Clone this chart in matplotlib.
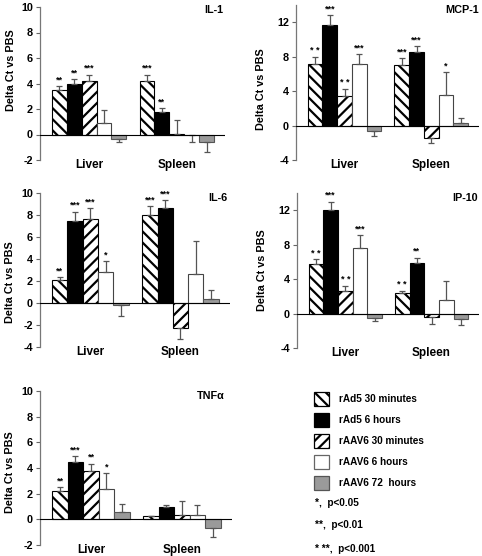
import numpy as np
import matplotlib
matplotlib.use("Agg")
import matplotlib.pyplot as plt
from matplotlib.patches import Rectangle

plt.rcParams['font.family'] = ['Liberation Sans', 'DejaVu Sans']
plt.rcParams['font.weight'] = 'bold'
plt.rcParams['hatch.linewidth'] = 1.6

groups = ['Liver', 'Spleen']
series = ['rAd5 30 minutes', 'rAd5 6 hours', 'rAAV6 30 minutes', 'rAAV6 6 hours', 'rAAV6 72  hours']
notes = ['*,  p<0.05', '**,  p<0.01', '* **,  p<0.001']

# IL-1
il1_liver = [3.5, 4.0, 4.2, 0.9, -0.35]
il1_liver_err = [0.3, 0.35, 0.5, 1.05, 0.25]
il1_liver_sig = ['**', '**', '***', '', '']
il1_spleen = [4.2, 1.8, 0.05, -0.05, -0.6]
il1_spleen_err = [0.5, 0.25, 1.05, 0.5, 0.8]
il1_spleen_sig = ['***', '**', '', '', '']

# MCP-1
mcp1_liver = [7.2, 11.7, 3.4, 7.2, -0.6]
mcp1_liver_err = [0.8, 1.1, 0.9, 1.1, 0.6]
mcp1_liver_sig = ['* *', '***', '* *', '***', '']
mcp1_spleen = [7.0, 8.5, -1.4, 3.6, 0.3]
mcp1_spleen_err = [0.8, 0.7, 0.6, 2.6, 0.6]
mcp1_spleen_sig = ['***', '***', '', '*', '']

# IL-6
il6_liver = [2.05, 7.5, 7.6, 2.8, -0.2]
il6_liver_err = [0.3, 0.8, 1.0, 1.0, 1.0]
il6_liver_sig = ['**', '***', '***', '*', '']
il6_spleen = [8.0, 8.65, -2.25, 2.6, 0.35]
il6_spleen_err = [0.8, 0.7, 1.0, 3.0, 0.85]
il6_spleen_sig = ['***', '***', '', '', '']

# IP-10
ip10_liver = [5.7, 12.0, 2.6, 7.6, -0.5]
ip10_liver_err = [0.6, 1.0, 0.6, 1.5, 0.4]
ip10_liver_sig = ['* *', '***', '* *', '***', '']
ip10_spleen = [2.4, 5.9, -0.45, 1.6, -0.65]
ip10_spleen_err = [0.25, 0.6, 0.8, 2.2, 0.7]
ip10_spleen_sig = ['* *', '**', '', '', '']

# TNF-alpha
tnf_liver = [2.2, 4.5, 3.8, 2.4, 0.6]
tnf_liver_err = [0.3, 0.4, 0.55, 1.2, 0.6]
tnf_liver_sig = ['**', '***', '**', '*', '']
tnf_spleen = [0.25, 1.0, 0.35, 0.35, -0.65]
tnf_spleen_err = [0.0, 0.15, 1.1, 0.75, 0.75]
tnf_spleen_sig = ['', '', '', '', '']

styles = [
    dict(facecolor='white', edgecolor='black', hatch='\\\\\\'),
    dict(facecolor='black', edgecolor='black', hatch=None),
    dict(facecolor='white', edgecolor='black', hatch='///'),
    dict(facecolor='white', edgecolor='#444444', hatch=None),
    dict(facecolor='#9a9a9a', edgecolor='#555555', hatch=None),
]

W, H = 482, 556
fig = plt.figure(figsize=(W / 100, H / 100), dpi=100)


def px_axes(left, right, top, bottom):
    return fig.add_axes([left / W, 1 - bottom / H, (right - left) / W, (bottom - top) / H])


def panel(box, title, title_xy, liver, liver_err, liver_sig, spleen, spleen_err, spleen_sig,
          ylim, yticks, ylab_xy):
    ax = px_axes(*box)
    w = 0.17
    xs = np.arange(len(groups))
    data = [(liver, liver_err, liver_sig), (spleen, spleen_err, spleen_sig)]
    for i in range(len(series)):
        vals = np.array([liver[i], spleen[i]])
        errs = np.array([liver_err[i], spleen_err[i]])
        pos = xs + (i - 2) * w
        st = styles[i]
        ax.bar(pos, vals, width=w, facecolor=st['facecolor'], edgecolor=st['edgecolor'],
               hatch=st['hatch'], linewidth=0.8, zorder=2)
        lower = np.where(vals < 0, errs, 0)
        upper = np.where(vals >= 0, errs, 0)
        ax.errorbar(pos, vals, yerr=[lower, upper], fmt='none', ecolor='#555555',
                    elinewidth=0.9, capsize=2, capthick=0.9, zorder=3)
        for g in range(len(groups)):
            sig = data[g][2][i]
            if sig:
                ax.annotate(sig, (pos[g], vals[g] + errs[g]), xytext=(0, 1.2),
                            textcoords='offset points', ha='center', va='bottom',
                            fontsize=6.5, fontweight='bold')
    ax.axhline(0, color='black', lw=0.8, zorder=4)
    ax.set_xlim(-0.56, 1.55)
    ax.set_ylim(*ylim)
    ax.set_yticks(yticks)
    ax.set_yticklabels([str(t) for t in yticks], fontsize=7.8, fontweight='bold')
    ax.set_xticks(xs)
    ax.set_xticklabels(groups, fontsize=8.5, fontweight='bold')
    ax.tick_params(axis='x', length=0, pad=-1)
    ax.tick_params(axis='y', length=3, width=0.8, color='#666666', pad=2)
    for s in ['top', 'right', 'bottom']:
        ax.spines[s].set_visible(False)
    ax.spines['left'].set_color('#777777')
    ax.spines['left'].set_linewidth(0.9)
    ax.set_ylabel('Delta Ct vs PBS', fontsize=7.8, fontweight='bold')
    ax.yaxis.set_label_coords(*ylab_xy)
    ax.text(title_xy[0], title_xy[1], title, transform=ax.transAxes, ha='right', va='center',
            fontsize=7.8, fontweight='bold')
    ax.patch.set_alpha(0)
    return ax


panel((40, 225, 7, 160), 'IL-1', (0.99, 0.98), il1_liver, il1_liver_err, il1_liver_sig,
      il1_spleen, il1_spleen_err, il1_spleen_sig, (-2, 10), [-2, 0, 2, 4, 6, 8, 10], (-0.13, 0.59))
panel((296, 479, 5, 160), 'MCP-1', (1.0, 0.97), mcp1_liver, mcp1_liver_err, mcp1_liver_sig,
      mcp1_spleen, mcp1_spleen_err, mcp1_spleen_sig, (-4, 14), [-4, 0, 4, 8, 12], (-0.165, 0.46))
panel((40, 230, 193, 347), 'IL-6', (0.985, 0.97), il6_liver, il6_liver_err, il6_liver_sig,
      il6_spleen, il6_spleen_err, il6_spleen_sig, (-4, 10), [-4, -2, 0, 2, 4, 6, 8, 10], (-0.13, 0.42))
panel((297, 479, 193, 348), 'IP-10', (0.995, 0.97), ip10_liver, ip10_liver_err, ip10_liver_sig,
      ip10_spleen, ip10_spleen_err, ip10_spleen_sig, (-4, 14), [-4, 0, 4, 8, 12], (-0.165, 0.5))
panel((40, 232, 391, 545), 'TNFα', (0.96, 0.97), tnf_liver, tnf_liver_err, tnf_liver_sig,
      tnf_spleen, tnf_spleen_err, tnf_spleen_sig, (-2, 10), [-2, 0, 2, 4, 6, 8, 10], (-0.13, 0.47))

# legend drawn in pixel coordinates
lax = fig.add_axes([241 / W, 0, 241 / W, 186 / H])
lax.set_xlim(241, 482)
lax.set_ylim(556, 370)
lax.axis('off')
row_y = [399, 420, 441, 462, 483]
for i, name in enumerate(series):
    st = styles[i]
    lax.add_patch(Rectangle((314, row_y[i] - 7), 15, 14, facecolor=st['facecolor'],
                            edgecolor=st['edgecolor'] if i != 3 else '#666666',
                            hatch=st['hatch'], linewidth=0.9))
    lax.text(339, row_y[i], name, ha='left', va='center', fontsize=7.2, fontweight='bold')
note_y = [503, 525, 549]
for t, y in zip(notes, note_y):
    lax.text(315, y, t, ha='left', va='center', fontsize=7.2, fontweight='bold')

fig.savefig('out.png', dpi=100)
